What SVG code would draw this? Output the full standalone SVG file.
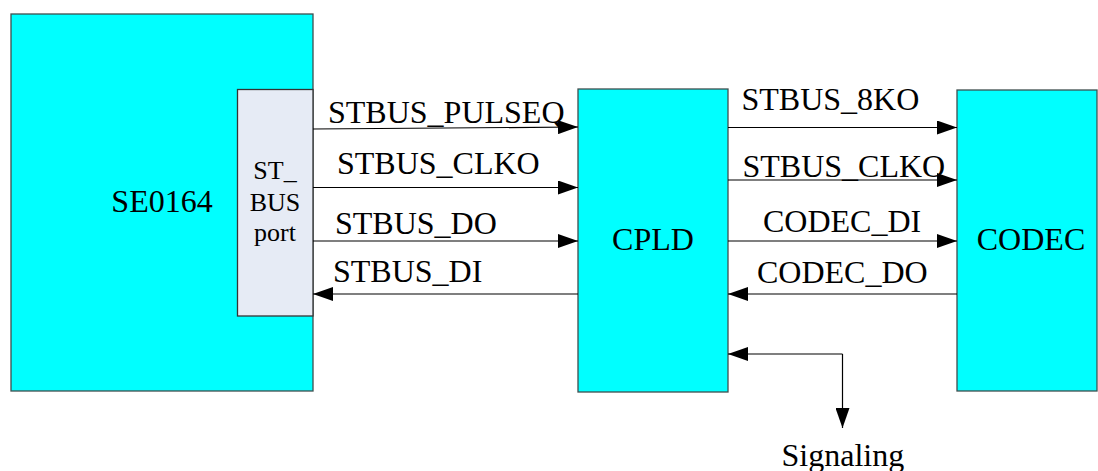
<svg xmlns="http://www.w3.org/2000/svg" width="1098" height="471" viewBox="0 0 1098 471">
<style>
.box{fill:#00FFFF;stroke:#3f4f4f;stroke-width:1.3}
.port{fill:#E6EBF5;stroke:#333;stroke-width:1.3}
.t{font-family:"Liberation Serif","Times New Roman",serif;font-size:32px;fill:#000}
.ts{font-family:"Liberation Serif","Times New Roman",serif;font-size:26px;fill:#000}
.c{fill:none;stroke:#000;stroke-width:1.2}
</style>
<defs>
<marker id="ah" markerWidth="20" markerHeight="14" refX="20" refY="7" orient="auto" markerUnits="userSpaceOnUse">
<path d="M0,0 L20,7 L0,14 Z" fill="#000"/>
</marker>
</defs>
<rect width="1098" height="471" fill="#fff"/>
<g id="se0164">
<rect class="box" x="11" y="14" width="302" height="377"/>
<text class="t" x="162" y="212" text-anchor="middle">SE0164</text>
</g>
<g id="stbus-port">
<rect class="port" x="237.5" y="89.5" width="75.5" height="226.5"/>
<text class="ts" x="275" y="179" text-anchor="middle">ST_</text>
<text class="ts" x="275" y="211" text-anchor="middle">BUS</text>
<text class="ts" x="275" y="241" text-anchor="middle">port</text>
</g>
<g id="cpld">
<rect class="box" x="578" y="89" width="150" height="303"/>
<text class="t" x="653" y="250" text-anchor="middle">CPLD</text>
</g>
<g id="codec">
<rect class="box" x="957" y="90" width="140" height="301"/>
<text class="t" x="1031" y="250" text-anchor="middle">CODEC</text>
</g>
<g id="connectors">
<line class="c" x1="313" y1="129" x2="578" y2="127" marker-end="url(#ah)"/>
<line class="c" x1="313" y1="187.5" x2="578" y2="187.5" marker-end="url(#ah)"/>
<line class="c" x1="313" y1="241" x2="578" y2="241" marker-end="url(#ah)"/>
<line class="c" x1="578" y1="294" x2="313" y2="294" marker-end="url(#ah)"/>
<line class="c" x1="728" y1="127.5" x2="957" y2="127.5" marker-end="url(#ah)"/>
<line class="c" x1="728" y1="180" x2="957" y2="180" marker-end="url(#ah)"/>
<line class="c" x1="728" y1="241" x2="957" y2="241" marker-end="url(#ah)"/>
<line class="c" x1="957" y1="294" x2="728" y2="294" marker-end="url(#ah)"/>
<polyline class="c" points="842.5,354 728,354" marker-end="url(#ah)"/>
<polyline class="c" points="842.5,354 842.5,428" marker-end="url(#ah)"/>
<text class="t" x="328" y="122.5">STBUS_PULSEQ</text>
<text class="t" x="337" y="174">STBUS_CLKO</text>
<text class="t" x="335" y="234">STBUS_DO</text>
<text class="t" x="333" y="281.5">STBUS_DI</text>
<text class="t" x="741.5" y="110">STBUS_8KO</text>
<text class="t" x="742.5" y="176.5">STBUS_CLKO</text>
<text class="t" x="763" y="231.5">CODEC_DI</text>
<text class="t" x="757" y="283">CODEC_DO</text>
<text class="t" x="781.5" y="465.5">Signaling</text>
</g>
</svg>
